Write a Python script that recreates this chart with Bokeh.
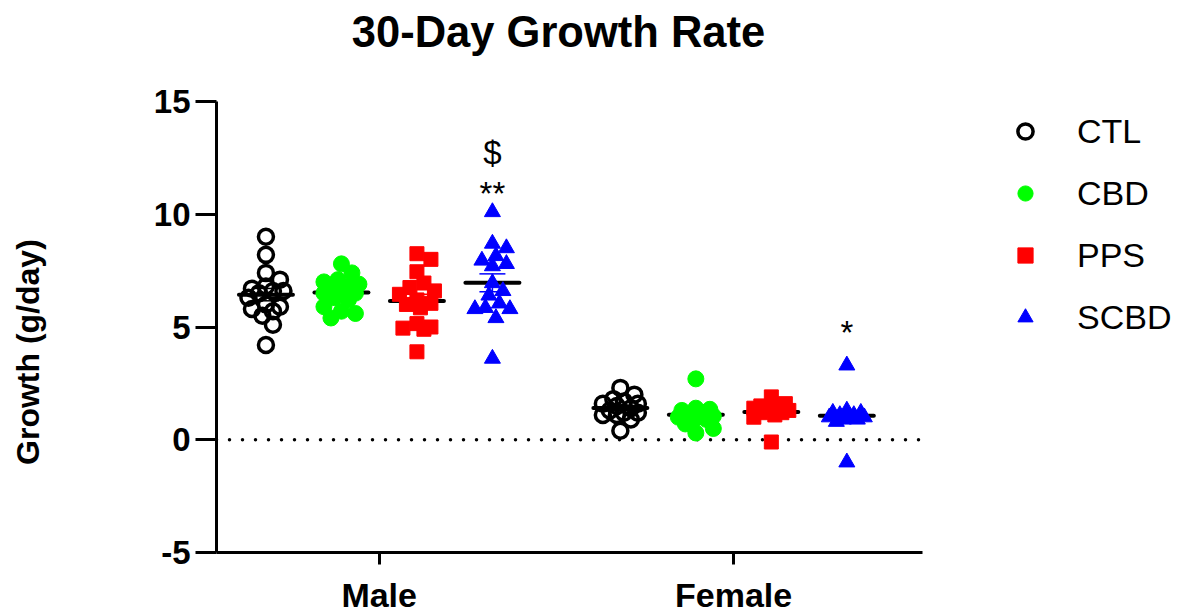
import math
import numpy as np
from bokeh.plotting import figure
from bokeh.models import (ColumnDataSource, Label, Legend, LegendItem,
                          FixedTicker, Range1d)
from bokeh.embed import file_html
from bokeh.resources import INLINE
from bokeh.core.properties import value

# ---- data -------------------------------------------------------------
sexes = ["Male", "Female"]
treatments = ["CTL", "CBD", "PPS", "SCBD"]

male_ctl = [9.0, 8.2, 7.4, 7.1, 6.8, 6.7, 6.6, 6.6, 6.5, 6.3, 6.0, 5.9, 5.8, 5.7, 5.5, 5.1, 4.2]
male_cbd = [7.8, 7.4, 7.1, 7.0, 6.9, 6.8, 6.8, 6.6, 6.5, 6.5, 6.3, 6.2, 5.9, 5.7, 5.6, 5.4]
male_pps = [8.25, 8.0, 7.45, 6.95, 6.75, 6.6, 6.45, 6.2, 6.05, 6.0, 5.85, 5.15, 5.0, 4.95, 4.9, 3.9]
male_scbd = [10.1, 8.7, 8.5, 8.15, 7.95, 7.8, 7.7, 6.95, 6.6, 6.4, 6.05, 5.85, 5.8, 5.8, 5.4, 3.6]

female_ctl = [2.3, 2.0, 1.8, 1.7, 1.6, 1.6, 1.5, 1.4, 1.3, 1.2, 1.2, 1.1, 1.1, 0.9, 0.4]
female_cbd = [2.7, 1.4, 1.35, 1.3, 1.2, 1.1, 1.05, 1.0, 0.95, 0.9, 0.7, 0.5, 0.3]
female_pps = [1.9, 1.6, 1.5, 1.4, 1.4, 1.3, 1.3, 1.2, 1.2, 1.1, 1.0, -0.1]
female_scbd = [3.3, 1.3, 1.2, 1.2, 1.1, 1.1, 1.1, 1.0, 1.0, 1.0, 0.9, 0.9, 0.8, -1.0]

growth = {
    "Male": [male_ctl, male_cbd, male_pps, male_scbd],
    "Female": [female_ctl, female_cbd, female_pps, female_scbd],
}

y_ticks = [-5, 0, 5, 10, 15]

# significance marks: (sex, treatment, text, baseline level in g/day)
sig_sex = ["Male", "Male", "Female"]
sig_treat = ["SCBD", "SCBD", "SCBD"]
sig_text = ["$", "**", "*"]
sig_level = [12.75, 10.9, 4.75]

# ---- styling / geometry ----------------------------------------------
colors = ["black", "#00ff00", "#ff0000", "#0000ff"]
FONT = "Liberation Sans"

W, H = 1190, 616
LEFT, BOTTOM = 216, 64
AXIS_TOP_PX = 101                        # where the y axis line starts
AXIS_RIGHT_PX = 922                      # where the x axis line stops
X0, X_AXIS_END = 0.541, 2.533
Y0, Y_AXIS_END = -5, 15
px_x = (AXIS_RIGHT_PX - LEFT) / (X_AXIS_END - X0)
px_y = (H - BOTTOM - AXIS_TOP_PX) / (Y_AXIS_END - Y0)
# the frame covers the whole canvas right of / above the axes so the
# title and legend can sit inside it
X1 = X0 + (W - LEFT) / px_x
Y1 = Y_AXIS_END + AXIS_TOP_PX / px_y

sex_pos = {s: i + 1 for i, s in enumerate(sexes)}
dodge = [(i - 1.5) * 0.213 for i in range(len(treatments))]


def swarm(vals, d=12.5, step=3.5, max_px=18.0):
    """Beeswarm offsets (pixels) so markers overlap as little as possible."""
    vals = np.asarray(vals, dtype=float)
    order = np.argsort(-vals)
    placed = []
    offs = np.zeros(len(vals))
    cands = [0.0]
    k = 1
    while k * step <= max_px:
        cands += [k * step, -k * step]
        k += 1
    for i in order:
        yy = vals[i] * px_y
        best, best_score = None, -1
        for c in cands:
            md = min((math.hypot(c - ox, yy - oy) for ox, oy in placed), default=1e9)
            if md >= d:
                best = c
                break
            if md > best_score:
                best_score, best = md, c
        offs[i] = best
        placed.append((best, yy))
    return offs


p = figure(width=W, height=H, output_backend="svg", toolbar_location=None,
           x_range=Range1d(X0, X1), y_range=Range1d(Y0, Y1),
           min_border_left=LEFT, min_border_right=0,
           min_border_top=0, min_border_bottom=BOTTOM)
p.outline_line_color = None
p.xgrid.visible = False
p.ygrid.visible = False
p.background_fill_color = "white"
p.border_fill_color = "white"

# title
p.add_layout(Label(x=X0 + (558 - LEFT) / px_x, y=Y_AXIS_END + (AXIS_TOP_PX - 31) / px_y,
                   text="30-Day Growth Rate", text_align="center", text_baseline="middle",
                   text_font=FONT, text_font_style="bold", text_font_size="43.5px",
                   text_color="black"))

# dotted zero line across the axis extent
p.line(x=[X0, X_AXIS_END], y=[0, 0], line_color="black", line_width=3.5,
       line_dash=[0, 13], line_cap="round")

half_mean = 27 / px_x
half_cap = 13 / px_x

renderers = []
for t_i, treat in enumerate(treatments):
    xs, ys = [], []
    mx0, mx1, my = [], [], []
    ex, elo, ehi = [], [], []
    for sex in sexes:
        vals = np.asarray(growth[sex][t_i], dtype=float)
        gx = sex_pos[sex] + dodge[t_i]
        offs = swarm(vals) / px_x
        xs += list(gx + offs)
        ys += list(vals)
        m = vals.mean()
        sem = vals.std(ddof=1) / math.sqrt(len(vals))
        mx0.append(gx - half_mean); mx1.append(gx + half_mean); my.append(m)
        ex.append(gx); elo.append(m - sem); ehi.append(m + sem)
    # mean bar and SEM whiskers
    p.segment(x0=mx0, x1=mx1, y0=my, y1=my, line_color="black", line_width=4,
              line_cap="round")
    p.segment(x0=ex, x1=ex, y0=elo, y1=ehi, line_color=colors[t_i], line_width=1.5)
    p.segment(x0=[x - half_cap for x in ex], x1=[x + half_cap for x in ex],
              y0=elo, y1=elo, line_color=colors[t_i], line_width=1.5)
    p.segment(x0=[x - half_cap for x in ex], x1=[x + half_cap for x in ex],
              y0=ehi, y1=ehi, line_color=colors[t_i], line_width=1.5)

    src = ColumnDataSource(dict(x=xs, y=ys))
    if treat == "CTL":
        r = p.scatter("x", "y", source=src, marker="circle", size=15,
                      fill_color="white", fill_alpha=0, line_color="black", line_width=3.5)
    elif treat == "CBD":
        r = p.scatter("x", "y", source=src, marker="circle", size=16,
                      fill_color=colors[t_i], line_color=colors[t_i], line_width=1)
    elif treat == "PPS":
        r = p.scatter("x", "y", source=src, marker="square", size=14,
                      fill_color=colors[t_i], line_color=colors[t_i], line_width=1)
    else:
        r = p.scatter("x", "y", source=src, marker="triangle", size=16,
                      fill_color=colors[t_i], line_color=colors[t_i], line_width=1)
    renderers.append(r)

# significance marks
sig_x = [sex_pos[s] + dodge[treatments.index(t)] for s, t in zip(sig_sex, sig_treat)]
p.text(x=sig_x, y=sig_level, text=sig_text, text_align="center",
       text_baseline="alphabetic", text_font=value(FONT), text_font_size="33px",
       text_color="black")

# axes
p.yaxis.ticker = FixedTicker(ticks=y_ticks)
p.yaxis.major_label_overrides = {t: str(t) for t in y_ticks}
p.yaxis.bounds = (Y0, Y_AXIS_END)
p.xaxis.ticker = FixedTicker(ticks=[sex_pos[s] for s in sexes])
p.xaxis.major_label_overrides = {sex_pos[s]: s for s in sexes}
p.xaxis.bounds = (X0, X_AXIS_END)
for ax in (p.xaxis, p.yaxis):
    ax.axis_line_width = 3
    ax.axis_line_color = "black"
    ax.major_tick_line_width = 3
    ax.major_tick_line_color = "black"
    ax.major_tick_in = 0
    ax.minor_tick_line_color = None
    ax.major_label_text_font = FONT
    ax.major_label_text_font_style = "bold"
    ax.major_label_text_color = "black"
p.yaxis.major_tick_out = 21
p.yaxis.major_label_standoff = 5
p.yaxis.major_label_text_font_size = "33px"
# trailing no-break spaces lower the visible title toward the axis middle
p.yaxis.axis_label = "Growth (g/day)" + "\u00a0" * 17
p.yaxis.axis_label_standoff = 105
p.yaxis.axis_label_text_font = FONT
p.yaxis.axis_label_text_font_style = "bold"
p.yaxis.axis_label_text_font_size = "32px"
p.yaxis.axis_label_text_color = "black"
p.xaxis.major_tick_out = 12
p.xaxis.major_label_standoff = 11
p.xaxis.major_label_text_font_size = "34px"

# legend (inside the widened frame, right of the data)
legend = Legend(items=[LegendItem(label=t, renderers=[r]) for t, r in zip(treatments, renderers)],
                location=(790, 214), orientation="vertical",
                glyph_width=38, glyph_height=42, label_height=42, spacing=20,
                padding=0, margin=0, label_standoff=33,
                border_line_color=None, background_fill_alpha=0,
                label_text_font=FONT, label_text_font_size="34px", label_text_color="black")
p.add_layout(legend)

open("out.html", "w").write(file_html(p, INLINE))
